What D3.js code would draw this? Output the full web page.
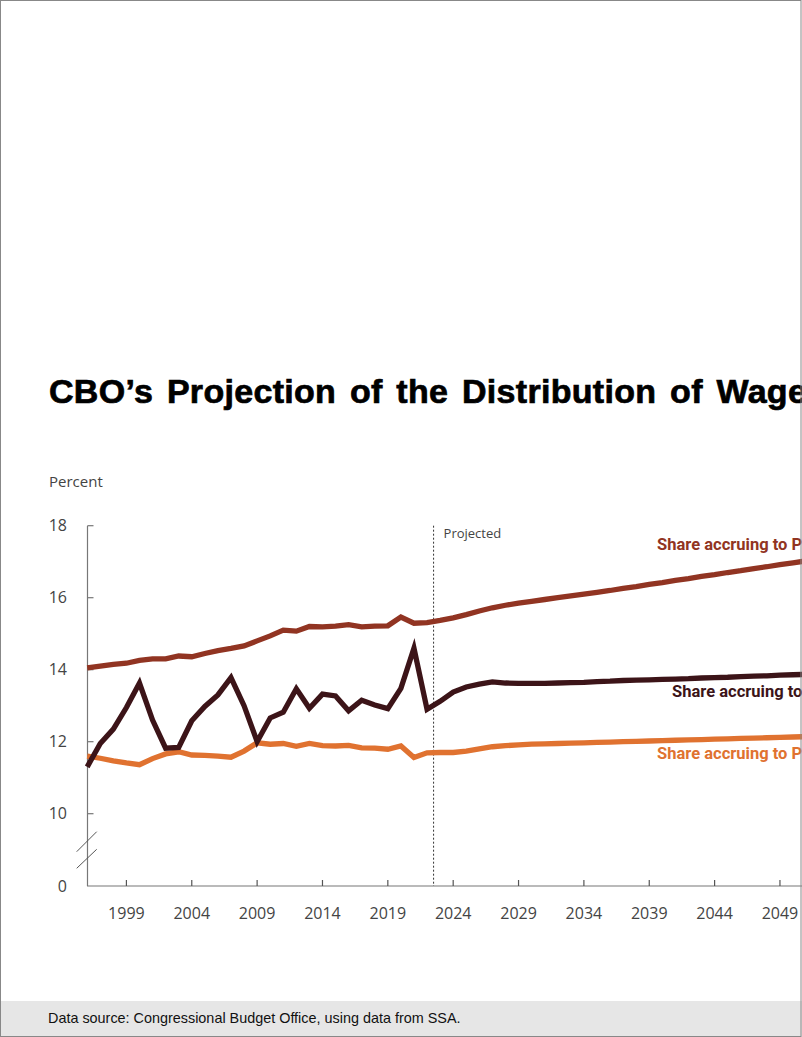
<!DOCTYPE html>
<html>
<head>
<meta charset="utf-8">
<script src="https://cdn.jsdelivr.net/npm/d3@7"></script>
<style>
  html, body { margin: 0; padding: 0; background: #fff; }
  svg { display: block; }
</style>
</head>
<body>
<svg id="chart" width="802" height="1037"></svg>
<script>
// ---- Data ----
const years = d3.range(1996, 2052);
const shareP95toP99 = [14.05,14.10,14.15,14.18,14.26,14.30,14.30,14.38,14.36,14.45,14.53,14.59,14.66,14.80,14.94,15.10,15.07,15.20,15.19,15.21,15.25,15.19,15.21,15.22,15.46,15.29,15.31,15.37,15.44,15.53,15.63,15.72,15.79,15.85,15.90,15.95,16.00,16.05,16.10,16.15,16.20,16.26,16.31,16.37,16.42,16.48,16.53,16.59,16.64,16.70,16.75,16.81,16.86,16.92,16.97,17.02];
const shareTop1 = [11.30,11.95,12.35,12.95,13.63,12.60,11.82,11.84,12.58,12.98,13.30,13.78,13.00,12.00,12.66,12.82,13.47,12.93,13.32,13.27,12.86,13.15,13.02,12.92,13.48,14.60,12.90,13.12,13.38,13.52,13.60,13.66,13.63,13.62,13.62,13.62,13.63,13.64,13.65,13.67,13.68,13.70,13.71,13.72,13.73,13.74,13.75,13.77,13.78,13.79,13.81,13.82,13.83,13.85,13.86,13.87];
const shareP90toP95 = [11.60,11.54,11.47,11.41,11.36,11.53,11.66,11.72,11.63,11.62,11.60,11.57,11.74,11.97,11.93,11.95,11.87,11.95,11.89,11.88,11.90,11.83,11.82,11.79,11.88,11.56,11.69,11.70,11.70,11.74,11.80,11.86,11.89,11.91,11.93,11.94,11.95,11.96,11.97,11.98,11.99,12.00,12.01,12.02,12.03,12.04,12.05,12.06,12.07,12.08,12.09,12.10,12.11,12.12,12.13,12.14];
const yTicks = [10, 12, 14, 16, 18];
const xTicks = [1999, 2004, 2009, 2014, 2019, 2024, 2029, 2034, 2039, 2044, 2049];
const projectedStart = 2022.5;
const seriesLabels = ["Share accruing to P95–P99", "Share accruing to Top 1 Percent", "Share accruing to P90–P95"];

const title = "CBO’s Projection of the Distribution of Wages Subject to the Payroll Tax";
const source = "Data source: Congressional Budget Office, using data from SSA.";

// ---- Layout ----
const W = 802, H = 1037;
const svg = d3.select("#chart");
const axisFont = "'Open Sans', 'Noto Sans', sans-serif";
const gray = "#444";

const x = d3.scaleLinear().domain([1996, 2051]).range([87.2, 806.1]);
const y = d3.scaleLinear().domain([10, 18]).range([813.7, 525.7]);
const yZero = 886;

// Title
svg.append("text")
  .attr("x", 49).attr("y", 403)
  .attr("font-family", "'Liberation Sans', Arial, sans-serif")
  .attr("font-weight", 700)
  .attr("font-size", 34)
  .attr("letter-spacing", 0.3)
  .attr("word-spacing", 4)
  .attr("fill", "#000")
  .attr("stroke", "#000").attr("stroke-width", 0.7)
  .text(title);

// Y axis label
svg.append("text")
  .attr("x", 49).attr("y", 487)
  .attr("font-family", axisFont).attr("font-size", 15)
  .attr("fill", gray)
  .text("Percent");

const axisColor = "#777";

// Y axis
const gY = svg.append("g");
gY.append("line")
  .attr("x1", 87.5).attr("x2", 87.5)
  .attr("y1", y(18)).attr("y2", yZero)
  .attr("stroke", axisColor).attr("stroke-width", 1.2);
gY.selectAll("line.tick").data(yTicks).join("line")
  .attr("class", "tick")
  .attr("x1", 87.5).attr("x2", 93.5)
  .attr("y1", d => y(d)).attr("y2", d => y(d))
  .attr("stroke", axisColor).attr("stroke-width", 1.2);
gY.selectAll("text").data(yTicks.map(d => ({v: d, py: y(d)})).concat([{v: 0, py: yZero}])).join("text")
  .attr("x", 67).attr("y", d => d.py)
  .attr("dy", "0.36em")
  .attr("text-anchor", "end")
  .attr("font-family", axisFont).attr("font-size", 16)
  .attr("fill", gray)
  .text(d => d.v);

// Axis break marks
[[851.7, 831.7], [868.3, 849.3]].forEach(([yb, yt]) => {
  gY.append("line")
    .attr("x1", 76.7).attr("y1", yb)
    .attr("x2", 96.7).attr("y2", yt)
    .attr("stroke", "#555").attr("stroke-width", 1);
});

// X axis
const gX = svg.append("g");
gX.append("line")
  .attr("x1", 87).attr("x2", W)
  .attr("y1", yZero).attr("y2", yZero)
  .attr("stroke", axisColor).attr("stroke-width", 1.2);
gX.selectAll("line.tick").data(xTicks).join("line")
  .attr("class", "tick")
  .attr("x1", d => x(d)).attr("x2", d => x(d))
  .attr("y1", yZero).attr("y2", yZero - 6)
  .attr("stroke", "#555").attr("stroke-width", 1.2);
gX.selectAll("text").data(xTicks).join("text")
  .attr("x", d => x(d)).attr("y", 919)
  .attr("text-anchor", "middle")
  .attr("font-family", axisFont).attr("font-size", 16)
  .attr("fill", gray)
  .text(d => d);

// Projected divider
svg.append("line")
  .attr("x1", x(projectedStart)).attr("x2", x(projectedStart))
  .attr("y1", y(18)).attr("y2", yZero)
  .attr("stroke", "#333").attr("stroke-width", 1)
  .attr("stroke-dasharray", "2,2");
svg.append("text")
  .attr("x", x(projectedStart) + 10).attr("y", 538)
  .attr("font-family", axisFont).attr("font-size", 13)
  .attr("fill", gray)
  .text("Projected");

// Lines
const series = [
  {values: shareP95toP99, color: "#913422", label: seriesLabels[0], lx: 2039.6, ly: 17.32},
  {values: shareTop1, color: "#3c1418", label: seriesLabels[1], lx: 2040.75, ly: 13.25},
  {values: shareP90toP95, color: "#e07230", label: seriesLabels[2], lx: 2039.6, ly: 11.51}
];

const line = d3.line()
  .x((d, i) => x(years[i]))
  .y(d => y(d));

svg.append("g").selectAll("path").data([series[2], series[0], series[1]]).join("path")
  .attr("d", d => line(d.values))
  .attr("fill", "none")
  .attr("stroke", d => d.color)
  .attr("stroke-width", 5.3)
  .attr("stroke-linejoin", "miter")
  .attr("stroke-linecap", "butt");

svg.append("g").selectAll("text").data(series).join("text")
  .attr("x", d => x(d.lx)).attr("y", d => y(d.ly))
  .attr("font-family", "Roboto, 'Open Sans', sans-serif")
  .attr("font-weight", 700)
  .attr("font-size", 16.5)
  .attr("fill", d => d.color)
  .text(d => d.label);

// Footer band
svg.append("rect")
  .attr("x", 0).attr("y", 1001)
  .attr("width", W).attr("height", H - 1001)
  .attr("fill", "#e6e6e6");
svg.append("text")
  .attr("x", 48).attr("y", 1023)
  .attr("font-family", "'Liberation Sans', Arial, sans-serif")
  .attr("font-size", 14.4)
  .attr("fill", "#111")
  .text(source);

// Page frame
svg.append("rect")
  .attr("x", 0.5).attr("y", 0.5)
  .attr("width", W - 1.5).attr("height", H - 1)
  .attr("fill", "none")
  .attr("stroke", "#888").attr("stroke-width", 1);
</script>
</body>
</html>
